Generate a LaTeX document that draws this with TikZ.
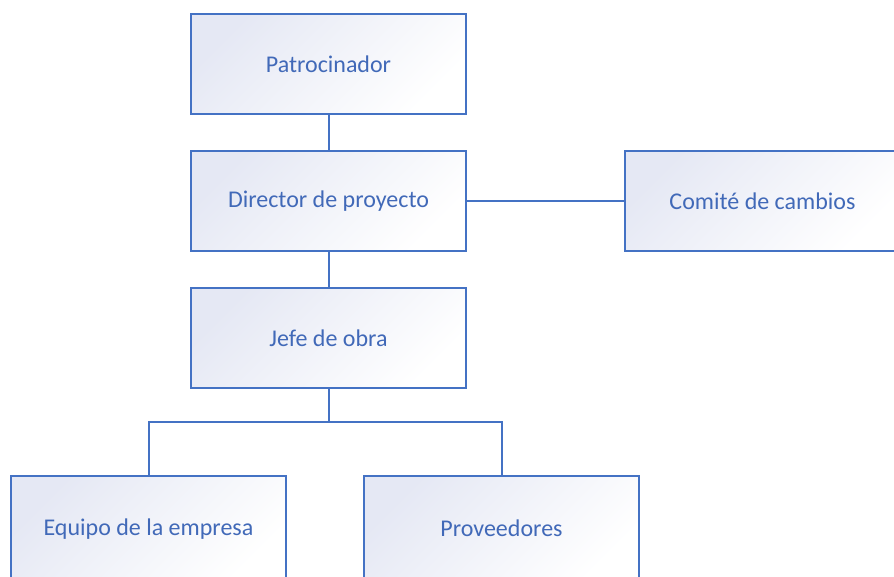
\documentclass[tikz,border=0pt]{standalone}
\usepackage{fontspec}
\setmainfont{Carlito}
\definecolor{bluebd}{HTML}{4472C4}
\definecolor{bluetx}{HTML}{4169B8}
\definecolor{shadetl}{HTML}{E5E8F4}
\begin{document}
\begin{tikzpicture}[x=1pt,y=-1pt,
  orgbox/.style={draw=bluebd, line width=2pt, rectangle,
    minimum width=275pt, minimum height=100pt,
    top color=shadetl, bottom color=white, shading angle=45,
    text=bluetx, font=\fontsize{24}{28}\selectfont, inner sep=0pt},
  lowbox/.style={orgbox, minimum height=106pt},
  link/.style={draw=bluebd, line width=2pt}]
\useasboundingbox (0,0) rectangle (894,576);
\clip (0,0) rectangle (894,576);
\node[orgbox] (pat) at (328.5,64) {Patrocinador};
\node[orgbox] (dir) at (328.5,201) {Director de proyecto};
\node[orgbox] (jefe) at (328.5,338) {Jefe de obra};
\node[orgbox] (com) at (762.5,201) {Comité de cambios};
\node[lowbox] (equ) at (148.5,529) {\raisebox{2pt}{Equipo de la empresa}};
\node[lowbox] (prov) at (501.5,529) {\raisebox{2pt}{Proveedores}};
\draw[link] (pat.south) -- (dir.north);
\draw[link] (dir.south) -- (jefe.north);
\draw[link] (dir.east) -- (com.west);
\draw[link] (jefe.south) -- ++(0,33) coordinate (bus);
\draw[link] (bus) -| (equ.north);
\draw[link] (bus) -| (prov.north);
\end{tikzpicture}
\end{document}
